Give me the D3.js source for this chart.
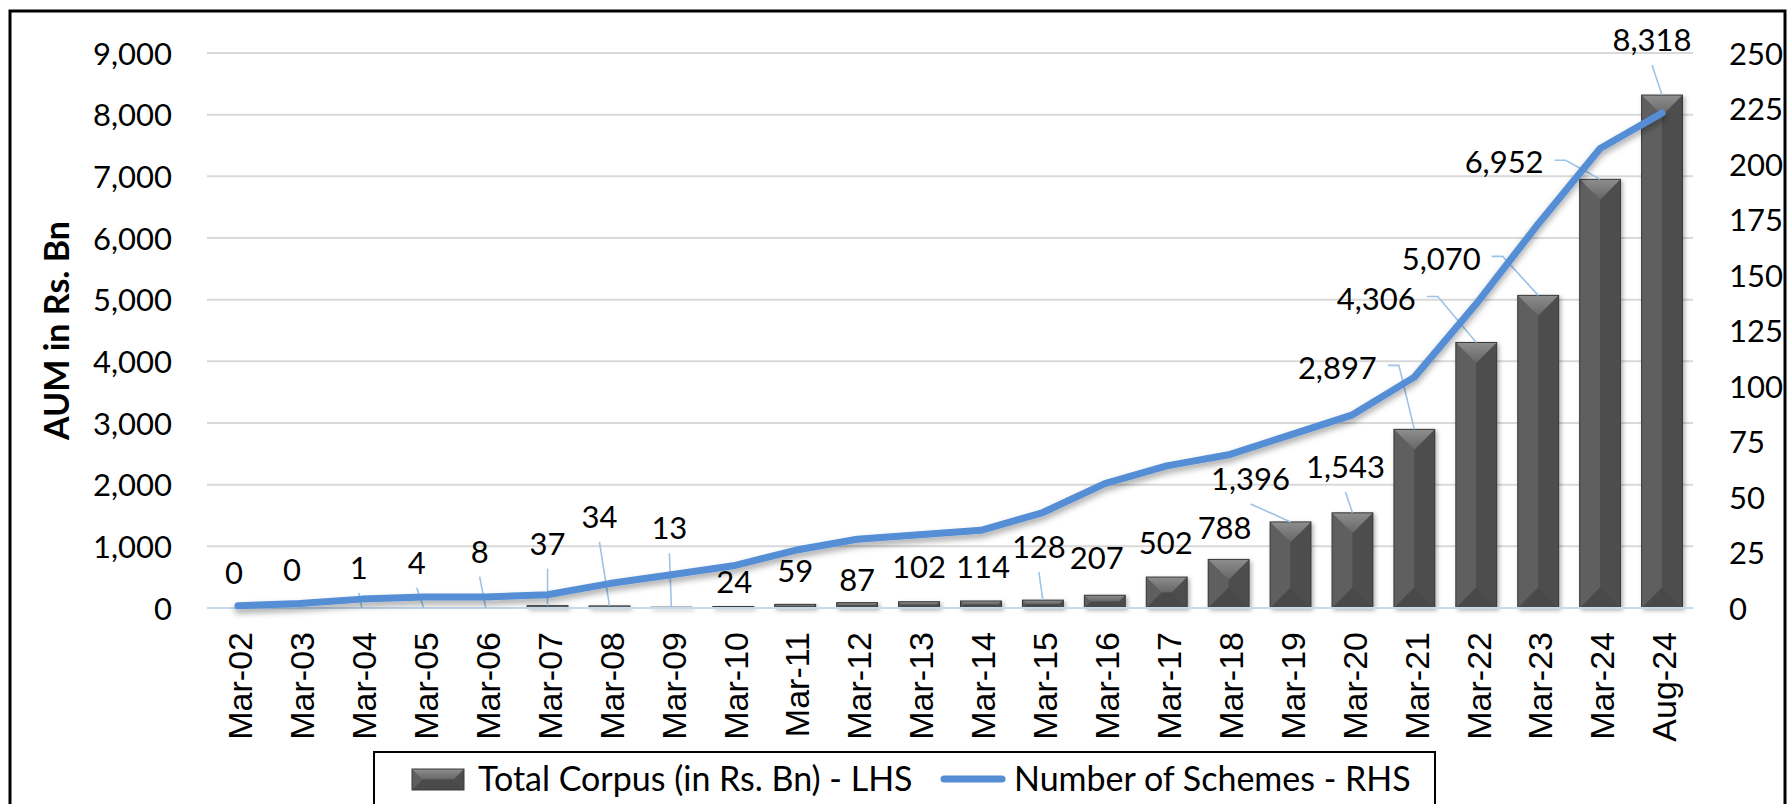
<!DOCTYPE html>
<html>
<head>
<meta charset="utf-8">
<script src="https://cdn.jsdelivr.net/npm/d3@7"></script>
<style>
  body { margin: 0; background: #fff; }
  text.num { font-family: Lato, "Open Sans", sans-serif; font-size: 31px; fill: #000; }
  text.cat { font-family: "Liberation Sans", Arial, sans-serif; font-size: 34px; fill: #000; }
  text.ttl { font-family: Lato, "Open Sans", sans-serif; font-size: 34px; font-weight: bold; fill: #000; }
  text.leg { font-family: Lato, "Open Sans", sans-serif; font-size: 34px; fill: #000; }
</style>
</head>
<body>
<script>
var categories = ["Mar-02","Mar-03","Mar-04","Mar-05","Mar-06","Mar-07","Mar-08","Mar-09","Mar-10","Mar-11","Mar-12","Mar-13",
                  "Mar-14","Mar-15","Mar-16","Mar-17","Mar-18","Mar-19","Mar-20","Mar-21","Mar-22","Mar-23","Mar-24","Aug-24"];
var corpus  = [0, 0, 1, 4, 8, 37, 34, 13, 24, 59, 87, 102, 114, 128, 207, 502, 788, 1396, 1543, 2897, 4306, 5070, 6952, 8318];
var schemes = [1, 2, 4, 5, 5, 6, 11, 15, 19, 26, 31, 33, 35, 43, 56, 64, 69, 78, 87, 104, 137, 173, 207, 223];
var leftTicks  = [0, 1000, 2000, 3000, 4000, 5000, 6000, 7000, 8000, 9000];
var rightTicks = [0, 25, 50, 75, 100, 125, 150, 175, 200, 225, 250];

// where each data label was dragged to (px from bar top) and its leader type
var labelDx = [-4, -8, -3, -7, -6, 0, -10, -2, 1, 0, 0, 0, 2, -4, -8, -1, -4, -40, -7, -77, -100, -97, -96, -10];
var labelDy = [-35, -38, -40, -45, -56, -62, -89, -79, -25, -34, -23, -35, -34, -53, -37, -34, -32, -43, -46, -62, -44, -37, -17, -55];
var leader  = [0, 0, 1, 1, 1, 1, 1, 1, 0, 0, 0, 0, 0, 1, 0, 0, 0, 1, 1, 2, 2, 2, 2, 1];

var width = 1789, height = 804;
var plotL = 207, plotR = 1693, plotT = 53, plotB = 608;

var svg = d3.select("body").append("svg")
    .attr("width", width)
    .attr("height", height);

var defs = svg.append("defs");
defs.append("filter").attr("id", "lineShadow")
    .attr("x", "-5%").attr("y", "-20%").attr("width", "110%").attr("height", "140%")
  .append("feDropShadow")
    .attr("dx", 0).attr("dy", 4).attr("stdDeviation", 3)
    .attr("flood-color", "#000").attr("flood-opacity", 0.35);
defs.append("filter").attr("id", "barShadow")
    .attr("x", "-20%").attr("y", "-5%").attr("width", "140%").attr("height", "110%")
  .append("feDropShadow")
    .attr("dx", 2).attr("dy", 2).attr("stdDeviation", 2)
    .attr("flood-color", "#000").attr("flood-opacity", 0.3);
var topGrad = defs.append("linearGradient").attr("id", "topGrad")
    .attr("x1", 0).attr("y1", 0).attr("x2", 0).attr("y2", 1);
topGrad.append("stop").attr("offset", "0%").attr("stop-color", "#8e8e8e");
topGrad.append("stop").attr("offset", "100%").attr("stop-color", "#666");

var x = d3.scaleBand()
    .domain(categories)
    .range([plotL, plotR])
    .paddingInner(0.34)
    .paddingOuter(0.17);

var yL = d3.scaleLinear().domain([0, 9000]).range([plotB, plotT]);
var yR = d3.scaleLinear().domain([0, 250]).range([plotB, plotT]);

function cx(d) { return x(d) + x.bandwidth() / 2; }

// outer chart border
svg.append("rect")
    .attr("x", 10).attr("y", 11)
    .attr("width", 1775).attr("height", 900)
    .attr("fill", "none").attr("stroke", "#000").attr("stroke-width", 3);

// gridlines
svg.append("g").selectAll("line")
    .data(leftTicks.slice(1))
    .enter().append("line")
    .attr("x1", plotL).attr("x2", plotR)
    .attr("y1", function(d) { return yL(d); })
    .attr("y2", function(d) { return yL(d); })
    .attr("stroke", "#d9d9d9").attr("stroke-width", 2);

// axes
var gl = svg.append("g")
    .attr("transform", "translate(" + plotL + ",0)")
    .call(d3.axisLeft(yL).tickValues(leftTicks).tickFormat(d3.format(",")).tickSize(0).tickPadding(35));
var gr = svg.append("g")
    .attr("transform", "translate(" + plotR + ",0)")
    .call(d3.axisRight(yR).tickValues(rightTicks).tickSize(0).tickPadding(36));
[gl, gr].forEach(function(g) {
  g.select(".domain").remove();
  g.selectAll("text").attr("class", "num").attr("dy", "0.36em");
  g.attr("font-size", null).attr("font-family", null);
});

var gx = svg.append("g")
    .attr("transform", "translate(0," + plotB + ")")
    .call(d3.axisBottom(x).tickSize(0));
gx.select(".domain").remove();
gx.attr("font-size", null).attr("font-family", null);
gx.selectAll("text")
    .attr("class", "cat")
    .attr("transform", "rotate(-90)")
    .attr("x", -24).attr("y", 2).attr("dy", "0.36em")
    .style("text-anchor", "end");

// bevelled bars
function bevel(g, x0, y0, w, h) {
  var b = Math.min(w / 2, h / 2);
  var p = function(pts) { return pts.map(function(q) { return q.join(","); }).join(" "); };
  g.append("rect").attr("x", x0).attr("y", y0).attr("width", w).attr("height", h).attr("fill", "#555");
  g.append("polygon").attr("fill", "#5f5f5f")
      .attr("points", p([[x0, y0], [x0 + b, y0 + b], [x0 + b, y0 + h - b], [x0, y0 + h]]));
  g.append("polygon").attr("fill", "#4d4d4d")
      .attr("points", p([[x0 + w, y0], [x0 + w - b, y0 + b], [x0 + w - b, y0 + h - b], [x0 + w, y0 + h]]));
  g.append("polygon").attr("fill", "url(#topGrad)")
      .attr("points", p([[x0, y0], [x0 + w, y0], [x0 + w - b, y0 + b], [x0 + b, y0 + b]]));
  g.append("polygon").attr("fill", "#4a4a4a")
      .attr("points", p([[x0, y0 + h], [x0 + w, y0 + h], [x0 + w - b, y0 + h - b], [x0 + b, y0 + h - b]]));
  g.append("rect").attr("x", x0).attr("y", y0).attr("width", w).attr("height", h)
      .attr("fill", "none").attr("stroke", "#3a3a3a").attr("stroke-width", 1);
}

var bars = svg.append("g").attr("filter", "url(#barShadow)");
corpus.forEach(function(v, i) {
  var h = yL(0) - yL(v);
  if (h < 0.5) return;
  bevel(bars.append("g"), x(categories[i]), yL(v), x.bandwidth(), h);
});

// x axis line
svg.append("line")
    .attr("x1", plotL).attr("x2", plotR)
    .attr("y1", plotB).attr("y2", plotB)
    .attr("stroke", "#c5d9f1").attr("stroke-width", 2);

// data labels + leader lines
var labels = svg.append("g");
var leaders = svg.append("g");
corpus.forEach(function(v, i) {
  var bx = cx(categories[i]), by = yL(v);
  var lx = bx + labelDx[i], ly = by + labelDy[i];
  var t = labels.append("text")
      .attr("class", "num")
      .attr("x", lx).attr("y", ly)
      .attr("dy", "0.36em")
      .style("text-anchor", "middle")
      .text(d3.format(",")(v));
  if (leader[i] === 1) {
    leaders.append("line")
        .attr("x1", lx).attr("y1", ly + 25)
        .attr("x2", bx).attr("y2", by);
  } else if (leader[i] === 2) {
    var hw = t.node().getComputedTextLength() / 2;
    leaders.append("polyline")
        .attr("points", [[lx + hw + 11, ly - 2], [lx + hw + 22, ly - 2], [bx, by]].join(" "));
  }
});
leaders.selectAll("line, polyline")
    .attr("fill", "none").attr("stroke", "#9dc3e6").attr("stroke-width", 1.6);

// schemes line
svg.append("path")
    .datum(schemes)
    .attr("fill", "none")
    .attr("stroke", "#558ed5")
    .attr("stroke-width", 7)
    .attr("stroke-linejoin", "round")
    .attr("stroke-linecap", "round")
    .attr("filter", "url(#lineShadow)")
    .attr("d", d3.line()
        .x(function(d, i) { return cx(categories[i]); })
        .y(function(d) { return yR(d); }));

// y axis title
svg.append("text")
    .attr("class", "ttl")
    .attr("transform", "translate(57," + ((plotT + plotB) / 2) + ")rotate(-90)")
    .attr("dy", "0.36em")
    .style("text-anchor", "middle")
    .text("AUM in Rs. Bn");

// legend
var leg = svg.append("g");
leg.append("rect")
    .attr("x", 374).attr("y", 752).attr("width", 1061).attr("height", 90)
    .attr("fill", "#fff").attr("stroke", "#000").attr("stroke-width", 2);
bevel(leg.append("g"), 412, 769, 52, 21);
leg.append("text").attr("class", "leg")
    .attr("x", 478).attr("y", 779).attr("dy", "0.36em")
    .text("Total Corpus (in Rs. Bn) - LHS");
leg.append("line")
    .attr("x1", 944).attr("x2", 1002).attr("y1", 779).attr("y2", 779)
    .attr("stroke", "#558ed5").attr("stroke-width", 7).attr("stroke-linecap", "round");
leg.append("text").attr("class", "leg")
    .attr("x", 1014).attr("y", 779).attr("dy", "0.36em")
    .text("Number of Schemes - RHS");
</script>
</body>
</html>
